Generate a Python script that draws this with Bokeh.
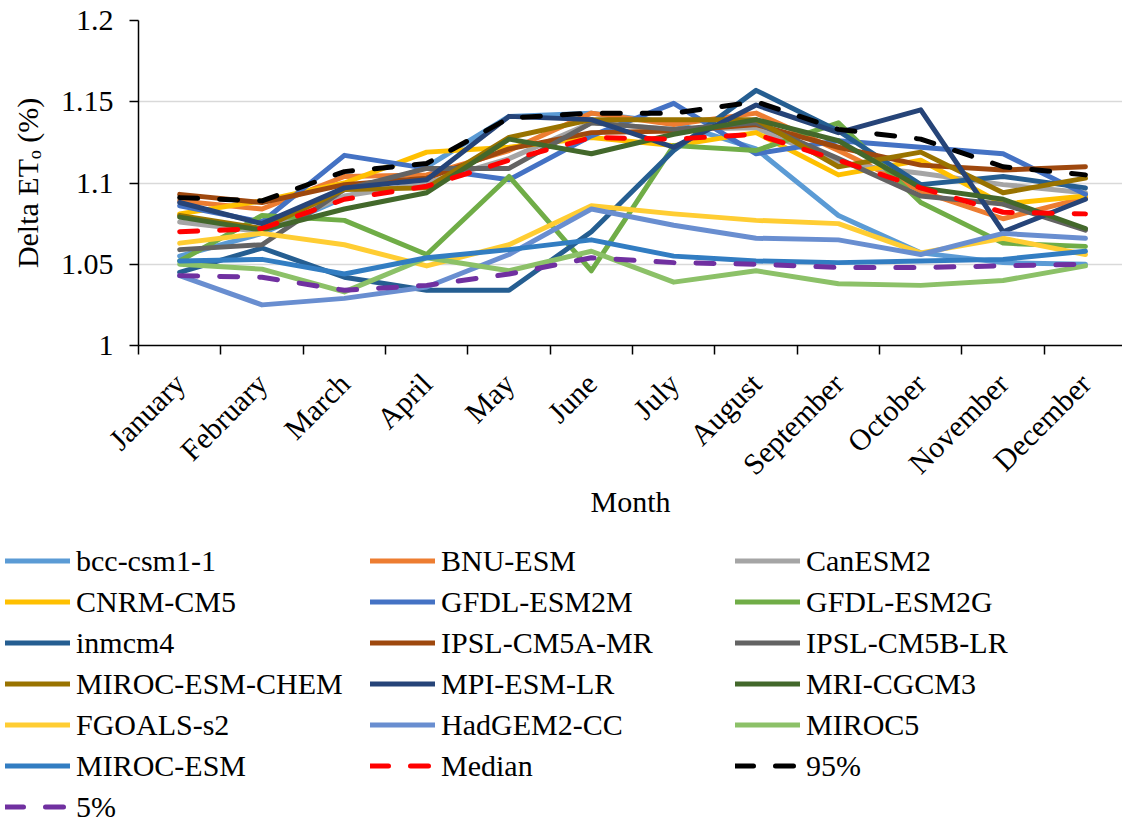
import math
import numpy as np
from bokeh.plotting import figure
from bokeh.models import Range1d, FixedTicker, Legend, LegendItem, ColumnDataSource
from bokeh.embed import file_html
from bokeh.resources import INLINE

months = ["January", "February", "March", "April", "May", "June", "July",
          "August", "September", "October", "November", "December"]

bcc_csm1_1     = [1.055, 1.069, 1.091, 1.110, 1.141, 1.143, 1.137, 1.121, 1.080, 1.057, 1.051, 1.050]
bnu_esm        = [1.089, 1.084, 1.104, 1.105, 1.120, 1.143, 1.136, 1.143, 1.120, 1.095, 1.078, 1.091]
canesm2        = [1.076, 1.070, 1.092, 1.100, 1.115, 1.137, 1.133, 1.134, 1.112, 1.106, 1.099, 1.094]
cnrm_cm5       = [1.081, 1.089, 1.100, 1.119, 1.122, 1.128, 1.123, 1.131, 1.105, 1.114, 1.087, 1.092]
gfdl_esm2m     = [1.086, 1.076, 1.117, 1.109, 1.102, 1.129, 1.149, 1.118, 1.126, 1.122, 1.118, 1.093]
gfdl_esm2g     = [1.052, 1.080, 1.077, 1.056, 1.104, 1.046, 1.123, 1.120, 1.137, 1.088, 1.063, 1.061]
inmcm4         = [1.045, 1.060, 1.042, 1.034, 1.034, 1.070, 1.120, 1.157, 1.132, 1.099, 1.104, 1.097]
ipsl_cm5a_mr   = [1.093, 1.088, 1.099, 1.103, 1.121, 1.131, 1.132, 1.136, 1.122, 1.111, 1.108, 1.110]
ipsl_cm5b_lr   = [1.059, 1.062, 1.096, 1.109, 1.109, 1.137, 1.133, 1.137, 1.115, 1.092, 1.087, 1.071]
miroc_esm_chem = [1.080, 1.072, 1.096, 1.097, 1.128, 1.139, 1.139, 1.139, 1.110, 1.119, 1.094, 1.103]
mpi_esm_lr     = [1.088, 1.075, 1.097, 1.102, 1.141, 1.139, 1.122, 1.148, 1.131, 1.145, 1.070, 1.090]
mri_cgcm3      = [1.079, 1.071, 1.084, 1.094, 1.127, 1.118, 1.130, 1.139, 1.126, 1.097, 1.090, 1.072]
fgoals_s2      = [1.063, 1.069, 1.062, 1.049, 1.062, 1.086, 1.081, 1.077, 1.075, 1.057, 1.066, 1.056]
hadgem2_cc     = [1.043, 1.025, 1.029, 1.036, 1.056, 1.084, 1.074, 1.066, 1.065, 1.056, 1.069, 1.066]
miroc5         = [1.050, 1.047, 1.033, 1.054, 1.046, 1.058, 1.039, 1.046, 1.038, 1.037, 1.040, 1.049]
miroc_esm      = [1.052, 1.053, 1.044, 1.054, 1.059, 1.065, 1.055, 1.052, 1.051, 1.052, 1.053, 1.058]
median         = [1.070, 1.072, 1.090, 1.098, 1.114, 1.128, 1.127, 1.130, 1.114, 1.097, 1.082, 1.081]
pct95          = [1.091, 1.089, 1.107, 1.112, 1.140, 1.143, 1.143, 1.150, 1.133, 1.127, 1.110, 1.105]
pct5           = [1.043, 1.042, 1.034, 1.037, 1.044, 1.054, 1.051, 1.050, 1.048, 1.048, 1.049, 1.050]

series = [
    ("bcc-csm1-1", bcc_csm1_1, "#5B9BD5", "solid"),
    ("BNU-ESM", bnu_esm, "#ED7D31", "solid"),
    ("CanESM2", canesm2, "#A5A5A5", "solid"),
    ("CNRM-CM5", cnrm_cm5, "#FFC000", "solid"),
    ("GFDL-ESM2M", gfdl_esm2m, "#4472C4", "solid"),
    ("GFDL-ESM2G", gfdl_esm2g, "#70AD47", "solid"),
    ("inmcm4", inmcm4, "#255E91", "solid"),
    ("IPSL-CM5A-MR", ipsl_cm5a_mr, "#9E480E", "solid"),
    ("IPSL-CM5B-LR", ipsl_cm5b_lr, "#636363", "solid"),
    ("MIROC-ESM-CHEM", miroc_esm_chem, "#997300", "solid"),
    ("MPI-ESM-LR", mpi_esm_lr, "#264478", "solid"),
    ("MRI-CGCM3", mri_cgcm3, "#43682B", "solid"),
    ("FGOALS-s2", fgoals_s2, "#FFCD33", "solid"),
    ("HadGEM2-CC", hadgem2_cc, "#698ED0", "solid"),
    ("MIROC5", miroc5, "#8CC168", "solid"),
    ("MIROC-ESM", miroc_esm, "#327DC2", "solid"),
    ("Median", median, "#FF0000", "18 22"),
    ("95%", pct95, "#000000", "18 22"),
    ("5%", pct5, "#7030A0", "18 22"),
]

FONT = "Liberation Serif"
LEG_FONT = "Liberation Serif, Times New Roman, serif"
x_pos = [i + 0.5 for i in range(len(months))]

# ---------------- main chart ----------------
p = figure(frame_width=984, frame_height=325, output_backend="svg", toolbar_location=None,
           x_range=Range1d(0, 11.95), y_range=Range1d(1.0, 1.2),
           min_border_left=138, min_border_right=0, min_border_top=20, min_border_bottom=0)
p.outline_line_color = None
p.background_fill_color = "white"

for name, vals, color, dash in series:
    p.line(x_pos, vals, line_color=color, line_width=5, line_dash=dash,
           line_cap="round", line_join="round")

xa = p.xaxis[0]
xa.ticker = FixedTicker(ticks=x_pos, minor_ticks=list(range(13)))
xa.major_label_overrides = {x: m for x, m in zip(x_pos, months)}
xa.major_tick_out = 0
xa.major_tick_in = 0
xa.minor_tick_out = 9
xa.minor_tick_in = 0
xa.minor_tick_line_color = "black"
xa.minor_tick_line_width = 1.5
xa.axis_line_color = "black"
xa.axis_line_width = 1.5
xa.major_label_orientation = math.pi / 4
xa.major_label_standoff = 24
xa.major_label_text_font = FONT
xa.major_label_text_font_size = "30px"
xa.major_label_text_color = "black"
xa.axis_label = "Month"
xa.axis_label_text_font = FONT
xa.axis_label_text_font_size = "30px"
xa.axis_label_text_font_style = "normal"
xa.axis_label_text_color = "black"
xa.axis_label_standoff = -11

ya = p.yaxis[0]
ya.ticker = FixedTicker(ticks=[1.0, 1.05, 1.1, 1.15, 1.2])
ya.major_label_overrides = {1.0: "1", 1.05: "1.05", 1.1: "1.1", 1.15: "1.15", 1.2: "1.2"}
ya.major_tick_out = 9
ya.major_tick_in = 0
ya.minor_tick_out = 0
ya.minor_tick_in = 0
ya.major_tick_line_color = "black"
ya.major_tick_line_width = 1.5
ya.axis_line_color = "black"
ya.axis_line_width = 1.5
ya.major_label_standoff = 16
ya.major_label_text_font = FONT
ya.major_label_text_font_size = "30px"
ya.major_label_text_color = "black"
ya.axis_label = "Delta ET\u2092 (%)"
ya.axis_label_text_font = FONT
ya.axis_label_text_font_size = "30px"
ya.axis_label_text_font_style = "normal"
ya.axis_label_text_color = "black"
ya.axis_label_standoff = 14

p.xgrid.visible = False
p.ygrid.ticker = FixedTicker(ticks=[1.05, 1.1, 1.15, 1.2])
p.ygrid.grid_line_color = "#D9D9D9"
p.ygrid.grid_line_width = 1.5

# ---------------- legend panel (separate root, full-width frame) ----------------
lg = figure(width=1122, height=301, output_backend="svg", toolbar_location=None,
            x_range=Range1d(0, 1), y_range=Range1d(0, 1),
            x_axis_type=None, y_axis_type=None,
            min_border_left=0, min_border_right=0, min_border_top=0, min_border_bottom=0)
lg.outline_line_color = None
lg.grid.visible = False

items = []
for name, vals, color, dash in series:
    key_src = ColumnDataSource(dict(x=np.array([np.nan]), y=np.array([np.nan])))
    key = lg.line("x", "y", source=key_src, line_color=color, line_width=5, line_dash=dash,
                  line_cap="round", line_join="round")
    items.append(LegendItem(label=name, renderers=[key]))

legend = Legend(items=items, ncols=3, orientation="horizontal", location=(5, -3),
                glyph_width=65, glyph_height=35, label_height=35, label_width=288,
                label_standoff=6, spacing=6, padding=0, margin=0,
                border_line_color=None, background_fill_alpha=0,
                label_text_font=LEG_FONT, label_text_font_size="30px",
                label_text_font_style="normal", label_text_color="black")
lg.add_layout(legend, "center")

open("out.html", "w").write(file_html([p, lg], INLINE))
